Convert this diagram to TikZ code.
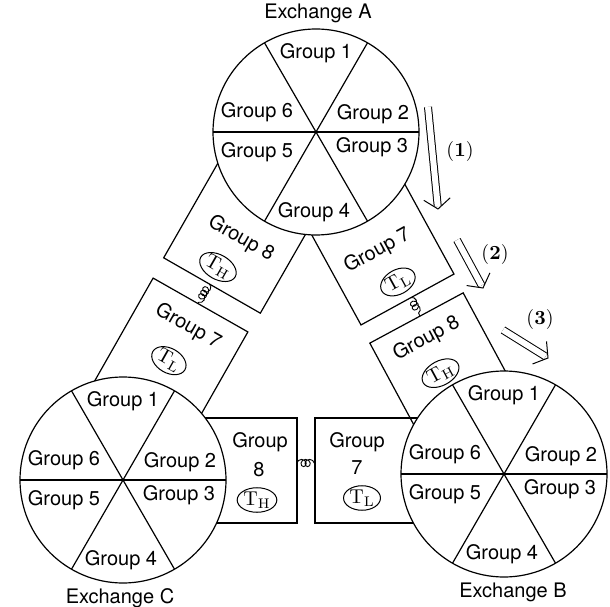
\documentclass[tikz,border=0pt]{standalone}
\usepackage{amsmath}
\usepackage{fontspec}
\setsansfont{TeX Gyre Heros}
\usetikzlibrary{calc,decorations.pathmorphing,shapes.geometric}

\begin{document}
\begin{tikzpicture}[
            x=0.5pt, y=0.5pt,
            line width=0.6pt,
            txt/.style={font=\sffamily},
            tag/.style={draw, ellipse, inner sep=0.2pt, line width=0.5pt},
            exch/.style={draw, fill=white},
            spring/.style={decorate, line width=0.45pt,
                decoration={coil, aspect=1, segment length=2pt, amplitude=1.8pt}},
            move/.style={double, double distance=3pt, line width=0.5pt, shorten >=1.5pt},
            head/.style={line width=0.5pt}
        ]
            \useasboundingbox (0,0) rectangle (610,606);
            \coordinate (A) at (316,474);
            \coordinate (B) at (504,132);
            \coordinate (C) at (123,126);

            % trunk groups between A and C
            \begin{scope}[shift={(212,320.5)}, rotate=-29.8, transform shape]
                \draw (-55.7,0) rectangle (55.7,130);
                \node[txt] (ac8t) at (2,55) {Group 8};
                \node[tag] (ac8h) at (-4,19) {$\mathrm{T_H}$};
                \coordinate (ac8s) at (-3,0);
            \end{scope}
            \begin{scope}[shift={(200.5,301)}, rotate=-29.6, transform shape]
                \draw (-54.5,-130) rectangle (54.5,0);
                \node[txt] (ac7t) at (0,-25) {Group 7};
                \node[tag] (ac7l) at (0,-64) {$\mathrm{T_L}$};
                \coordinate (ac7n) at (-3,0);
            \end{scope}

            % trunk groups between A and B
            \begin{scope}[shift={(407.5,306.5)}, rotate=28.7, transform shape]
                \draw (-53,0) rectangle (53,130);
                \node[txt] (ab7t) at (-3,57) {Group 7};
                \node[tag] (ab7l) at (0,20) {$\mathrm{T_L}$};
                \coordinate (ab7s) at (4,0);
            \end{scope}
            \begin{scope}[shift={(416.5,288)}, rotate=28.3, transform shape]
                \draw (-53,-130) rectangle (53,0);
                \node[txt] (ab8t) at (-1,-23) {Group 8};
                \node[tag] (ab8h) at (-5,-60) {$\mathrm{T_H}$};
                \coordinate (ab8n) at (4,0);
            \end{scope}

            % trunk groups between C and B
            \draw (180,83) rectangle (297,188);
            \draw (315,83) rectangle (440,188);
            \node[txt] (cb8t) at (260,164) {Group};
            \node[txt] (cb8n) at (259,136) {8};
            \node[tag] (cb8h) at (257,106) {$\mathrm{T_H}$};
            \node[txt] (cb7t) at (357,164) {Group};
            \node[txt] (cb7n) at (357,138) {7};
            \node[tag] (cb7l) at (362,108) {$\mathrm{T_L}$};
            \coordinate (cb8e) at (297,143);
            \coordinate (cb7w) at (315,143);

            \draw[spring] (ac8s) -- (ac7n);
            \draw[spring] (ab7s) -- (ab8n);
            \draw[spring] (cb8e) -- (cb7w);

            % exchanges
            \foreach \c in {A,B,C} {
                \draw[exch] (\c) circle[radius=51.5pt];
                \foreach \a in {0,60,120}
                    \draw (\c) ++(\a:51.5pt) -- ++(\a+180:103pt);
                \foreach \g/\dx/\dy in {1/0/79, 2/57/18, 3/56/-15, 4/-2/-80, 5/-59/-20, 6/-59/20}
                    \node[txt] (\c\g) at ([shift={(\dx,\dy)}]\c) {Group \g};
            }
            \node[txt, anchor=base] (nameA) at (318,587) {Exchange A};
            \node[txt, anchor=base] (nameB) at (513,9) {Exchange B};
            \node[txt, anchor=base] (nameC) at (120,3) {Exchange C};

            % order of hunting
            \coordinate (m1s) at (428,499);
            \coordinate (m1e) at (438,397);
            \coordinate (m2s) at (457,366);
            \coordinate (m2e) at (483,318);
            \coordinate (m3s) at (503,276);
            \coordinate (m3e) at (548,248);
            \foreach \m in {m1,m2,m3} {
                \draw[move] (\m s) -- (\m e);
                \draw[head] ($(\m e)!8.3pt!53:(\m s)$) -- (\m e) -- ($(\m e)!8.3pt!-53:(\m s)$);
            }
            \node (lab1) at (460,454) {(\textbf{1})};
            \node (lab2) at (495,352) {(\textbf{2})};
            \node (lab3) at (540,287) {(\textbf{3})};
        \end{tikzpicture}
\end{document}
